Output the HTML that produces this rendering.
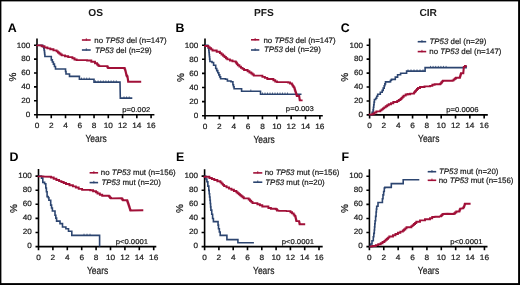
<!DOCTYPE html><html><head><meta charset="utf-8"><style>html,body{margin:0;padding:0;background:#fff;}svg{display:block;will-change:transform;filter:blur(0.3px);}text{font-family:"Liberation Sans", sans-serif;text-rendering:geometricPrecision;stroke:#1a1a1a;stroke-width:0.2px;}</style></head><body>
<svg width="520" height="285" viewBox="0 0 520 285">
<rect x="0" y="0" width="520" height="285" fill="#000"/>
<rect x="1.4" y="1.4" width="516.7" height="281.7" fill="#fff"/>
<text x="95.6" y="16" font-size="10.2" font-weight="bold" text-anchor="middle" fill="#1a1a1a" style="stroke:none">OS</text>
<text x="263.9" y="15.8" font-size="10.2" font-weight="bold" text-anchor="middle" fill="#1a1a1a" style="stroke:none">PFS</text>
<text x="428.2" y="16" font-size="10.2" font-weight="bold" text-anchor="middle" fill="#1a1a1a" style="stroke:none">CIR</text>
<text x="7.7" y="31.9" font-size="12.4" font-weight="bold" fill="#000" style="stroke:none">A</text>
<text x="175.6" y="31.7" font-size="12.4" font-weight="bold" fill="#000" style="stroke:none">B</text>
<text x="340.7" y="31.8" font-size="12.4" font-weight="bold" fill="#000" style="stroke:none">C</text>
<text x="9.4" y="161.2" font-size="12.4" font-weight="bold" fill="#000" style="stroke:none">D</text>
<text x="176.1" y="161.2" font-size="12.4" font-weight="bold" fill="#000" style="stroke:none">E</text>
<text x="341.6" y="161.2" font-size="12.4" font-weight="bold" fill="#000" style="stroke:none">F</text>
<path d="M37 38.5V114.7M34 114.7H154.4M34 114.7H37M34 100.8H37M34 86.9H37M34 73H37M34 59.1H37M34 45.2H37M37 114.7V118.3M51.26 114.7V118.3M65.52 114.7V118.3M79.78 114.7V118.3M94.04 114.7V118.3M108.3 114.7V118.3M122.56 114.7V118.3M136.82 114.7V118.3M151.08 114.7V118.3" stroke="#000" stroke-width="1.6" fill="none"/>
<text transform="translate(30.4 117.05) scale(1.06 1)" font-size="7.7" text-anchor="end" fill="#1a1a1a">0</text>
<text transform="translate(30.4 103.15) scale(1.06 1)" font-size="7.7" text-anchor="end" fill="#1a1a1a">20</text>
<text transform="translate(30.4 89.25) scale(1.06 1)" font-size="7.7" text-anchor="end" fill="#1a1a1a">40</text>
<text transform="translate(30.4 75.35) scale(1.06 1)" font-size="7.7" text-anchor="end" fill="#1a1a1a">60</text>
<text transform="translate(30.4 61.45) scale(1.06 1)" font-size="7.7" text-anchor="end" fill="#1a1a1a">80</text>
<text transform="translate(30.4 47.55) scale(1.06 1)" font-size="7.7" text-anchor="end" fill="#1a1a1a">100</text>
<text transform="translate(37 128) scale(1.08 1)" font-size="7.7" text-anchor="middle" fill="#1a1a1a">0</text>
<text transform="translate(51.26 128) scale(1.08 1)" font-size="7.7" text-anchor="middle" fill="#1a1a1a">2</text>
<text transform="translate(65.52 128) scale(1.08 1)" font-size="7.7" text-anchor="middle" fill="#1a1a1a">4</text>
<text transform="translate(79.78 128) scale(1.08 1)" font-size="7.7" text-anchor="middle" fill="#1a1a1a">6</text>
<text transform="translate(94.04 128) scale(1.08 1)" font-size="7.7" text-anchor="middle" fill="#1a1a1a">8</text>
<text transform="translate(108.3 128) scale(1.08 1)" font-size="7.7" text-anchor="middle" fill="#1a1a1a">10</text>
<text transform="translate(122.56 128) scale(1.08 1)" font-size="7.7" text-anchor="middle" fill="#1a1a1a">12</text>
<text transform="translate(136.82 128) scale(1.08 1)" font-size="7.7" text-anchor="middle" fill="#1a1a1a">14</text>
<text transform="translate(151.08 128) scale(1.08 1)" font-size="7.7" text-anchor="middle" fill="#1a1a1a">16</text>
<text transform="translate(96.1 142) scale(0.82 1)" font-size="10.3" text-anchor="middle" fill="#1a1a1a">Years</text>
<text transform="translate(15.8 77.15) rotate(-90)" font-size="10" text-anchor="middle" fill="#1a1a1a">%</text>
<text transform="translate(150.2 111.9) scale(1.1 1)" font-size="7" text-anchor="end" fill="#1a1a1a">p=0.002</text>
<path d="M37 45.2 L41.7 45.4 L42.8 45.4 L42.8 46.7 L43.8 46.7 L43.8 48.4 L44.15 48.4 L44.15 50.5 L44.5 50.5 L44.5 52.6 L44.7 52.6 L44.7 54.55 L44.9 54.55 L44.9 56.5 L50.1 56.5 L51.3 56.5 L51.3 59.9 L52.35 59.9 L52.35 62 L53.4 62 L53.4 64.1 L54.45 64.1 L54.45 66.55 L55.5 66.55 L55.5 69 L65.1 69 L65.55 69 L65.55 71.5 L66 71.5 L66 74 L68.9 74 L69.5 74 L69.5 76.4 L79 76.4 L79.4 76.4 L79.4 79.3 L93.5 79.3 L94 79.3 L94 82.1 L120 82.1 L120.3 98.1 L132.3 98.1" stroke="#2c4570" stroke-width="1.6" fill="none" stroke-linejoin="miter"/>
<path d="M37 45.2 L37 45.4 L41.7 45.4 L41.7 45.6 L41.7 46.3 L44.5 46.3 L44.5 47 L44.5 47.45 L47.4 47.45 L47.4 48.35 L50.3 48.35 L50.3 48.8 L50.3 49.32 L53.45 49.32 L53.45 50.38 L56.6 50.38 L56.6 50.9 L56.6 51.41 L57.9 51.41 L57.9 52.44 L59.2 52.44 L59.2 53.46 L60.5 53.46 L60.5 54.49 L61.8 54.49 L61.8 55 L61.8 55.42 L65 55.42 L65 56.28 L68.2 56.28 L68.2 56.7 L68.2 57.15 L72.4 57.15 L72.4 57.6 L72.4 58.23 L74.5 58.23 L74.5 59.48 L76.6 59.48 L76.6 60.1 L87.1 60.1 L87.1 60.55 L91.3 60.55 L91.3 61 L91.3 61.75 L95 61.75 L95 62.5 L95 63.2 L97.1 63.2 L97.1 63.9 L97.1 64.45 L98.15 64.45 L98.15 65.55 L99.2 65.55 L99.2 66.1 L107.1 66.1 L107.1 66.57 L107.65 66.57 L107.65 67.53 L108.2 67.53 L108.2 68 L124.5 68 L124.5 68.47 L124.83 68.47 L124.83 69.4 L125.17 69.4 L125.17 70.33 L125.5 70.33 L125.5 70.8 L125.5 71.33 L125.72 71.33 L125.72 72.38 L125.95 72.38 L125.95 73.42 L126.18 73.42 L126.18 74.47 L126.4 74.47 L126.4 75 L126.4 75.53 L127 75.53 L127 76.57 L127.6 76.57 L127.6 77.1 L127.6 77.69 L127.75 77.69 L127.75 78.86 L127.9 78.86 L127.9 80.04 L128.05 80.04 L128.05 81.21 L128.2 81.21 L128.2 81.8 L141.2 81.8" stroke="#a11038" stroke-width="1.9" fill="none" stroke-linejoin="miter"/>
<path d="M95.5 82.1V80.4M98.1 82.1V80.4M100.7 82.1V80.4M103.3 82.1V80.4M105.9 82.1V80.4M108.5 82.1V80.4M111.1 82.1V80.4M113.7 82.1V80.4M116.3 82.1V80.4" stroke="#2c4570" stroke-width="0.8" fill="none"/>
<path d="M124 98.1V96.4M126.6 98.1V96.4M129.2 98.1V96.4" stroke="#2c4570" stroke-width="0.8" fill="none"/>
<path d="M81.5 79.3V77.6M84.1 79.3V77.6M86.7 79.3V77.6M89.3 79.3V77.6" stroke="#2c4570" stroke-width="0.8" fill="none"/>
<path d="M81.9 40H90.7" stroke="#a11038" stroke-width="1.6"/>
<path d="M86.3 40.7v-2.4" stroke="#a11038" stroke-width="0.9"/>
<text x="94.35" y="42.65" font-size="7.9" fill="#1a1a1a" xml:space="preserve"><tspan>no </tspan><tspan font-style="italic">TP53</tspan><tspan> del (n=147)</tspan></text>
<path d="M81.9 50H90.7" stroke="#2c4570" stroke-width="1.6"/>
<path d="M86.3 50.7v-2.4" stroke="#2c4570" stroke-width="0.9"/>
<text x="94.9" y="52.55" font-size="7.9" fill="#1a1a1a" xml:space="preserve"><tspan font-style="italic">TP53</tspan><tspan> del (n=29)</tspan></text>
<path d="M205 38.5V115.7M202 115.7H322.8M202 115.7H205M202 101.6H205M202 87.5H205M202 73.4H205M202 59.3H205M202 45.2H205M205 115.7V119.3M219.36 115.7V119.3M233.72 115.7V119.3M248.08 115.7V119.3M262.44 115.7V119.3M276.8 115.7V119.3M291.16 115.7V119.3M305.52 115.7V119.3M319.88 115.7V119.3" stroke="#000" stroke-width="1.6" fill="none"/>
<text transform="translate(198.4 118.05) scale(1.06 1)" font-size="7.7" text-anchor="end" fill="#1a1a1a">0</text>
<text transform="translate(198.4 103.95) scale(1.06 1)" font-size="7.7" text-anchor="end" fill="#1a1a1a">20</text>
<text transform="translate(198.4 89.85) scale(1.06 1)" font-size="7.7" text-anchor="end" fill="#1a1a1a">40</text>
<text transform="translate(198.4 75.75) scale(1.06 1)" font-size="7.7" text-anchor="end" fill="#1a1a1a">60</text>
<text transform="translate(198.4 61.65) scale(1.06 1)" font-size="7.7" text-anchor="end" fill="#1a1a1a">80</text>
<text transform="translate(198.4 47.55) scale(1.06 1)" font-size="7.7" text-anchor="end" fill="#1a1a1a">100</text>
<text transform="translate(205 129) scale(1.08 1)" font-size="7.7" text-anchor="middle" fill="#1a1a1a">0</text>
<text transform="translate(219.36 129) scale(1.08 1)" font-size="7.7" text-anchor="middle" fill="#1a1a1a">2</text>
<text transform="translate(233.72 129) scale(1.08 1)" font-size="7.7" text-anchor="middle" fill="#1a1a1a">4</text>
<text transform="translate(248.08 129) scale(1.08 1)" font-size="7.7" text-anchor="middle" fill="#1a1a1a">6</text>
<text transform="translate(262.44 129) scale(1.08 1)" font-size="7.7" text-anchor="middle" fill="#1a1a1a">8</text>
<text transform="translate(276.8 129) scale(1.08 1)" font-size="7.7" text-anchor="middle" fill="#1a1a1a">10</text>
<text transform="translate(291.16 129) scale(1.08 1)" font-size="7.7" text-anchor="middle" fill="#1a1a1a">12</text>
<text transform="translate(305.52 129) scale(1.08 1)" font-size="7.7" text-anchor="middle" fill="#1a1a1a">14</text>
<text transform="translate(319.88 129) scale(1.08 1)" font-size="7.7" text-anchor="middle" fill="#1a1a1a">16</text>
<text transform="translate(264.1 143) scale(0.82 1)" font-size="10.3" text-anchor="middle" fill="#1a1a1a">Years</text>
<text transform="translate(183.8 77.65) rotate(-90)" font-size="10" text-anchor="middle" fill="#1a1a1a">%</text>
<text transform="translate(313.9 111.4) scale(1.1 1)" font-size="7" text-anchor="end" fill="#1a1a1a">p=0.003</text>
<path d="M205 45.2 L207.8 45.2 L207.8 46 L208.3 46 L208.3 48.2 L208.8 48.2 L208.8 50.4 L209 50.4 L209 52.5 L209.2 52.5 L209.2 54.6 L209.4 54.6 L209.4 56.7 L209.65 56.7 L209.65 59.1 L209.9 59.1 L209.9 61.5 L212 61.5 L212 62.5 L213.6 62.5 L213.6 65.2 L215.7 65.2 L215.7 68.5 L216.73 68.5 L216.73 70.63 L217.77 70.63 L217.77 72.77 L218.8 72.77 L218.8 74.9 L219.7 74.9 L219.7 76.85 L220.6 76.85 L220.6 78.8 L225.5 78.8 L225.5 79.2 L227.4 79.2 L227.4 81 L231 81 L231 81.7 L232.9 81.7 L232.9 84.7 L233.5 84.7 L233.5 86.75 L234.1 86.75 L234.1 88.8 L240.9 88.8 L241.6 88.8 L241.6 91.2 L259.9 91.2 L260.5 91.2 L260.5 94.2 L301.5 94.2" stroke="#2c4570" stroke-width="1.6" fill="none" stroke-linejoin="miter"/>
<path d="M205 45.2 L205 45.95 L208.3 45.95 L208.3 46.7 L208.3 47.23 L209.7 47.23 L209.7 48.3 L211.1 48.3 L211.1 49.37 L212.5 49.37 L212.5 49.9 L212.5 50.45 L216.7 50.45 L216.7 51 L216.7 51.75 L219.9 51.75 L219.9 52.5 L219.9 53.17 L221.5 53.17 L221.5 54.53 L223.1 54.53 L223.1 55.2 L223.1 55.8 L224.5 55.8 L224.5 57 L225.9 57 L225.9 58.2 L227.3 58.2 L227.3 58.8 L227.3 59.35 L229.9 59.35 L229.9 60.45 L232.5 60.45 L232.5 61 L232.5 61.4 L235.7 61.4 L235.7 61.8 L235.7 62.27 L236.4 62.27 L236.4 63.2 L237.1 63.2 L237.1 64.13 L237.8 64.13 L237.8 64.6 L237.8 65.27 L239.4 65.27 L239.4 66.62 L241 66.62 L241 67.3 L241 67.83 L242.55 67.83 L242.55 68.88 L244.1 68.88 L244.1 69.4 L244.1 70 L247.6 70 L247.6 70.6 L247.6 71.22 L249.45 71.22 L249.45 72.47 L251.3 72.47 L251.3 73.1 L251.3 73.55 L252.55 73.55 L252.55 74.45 L253.8 74.45 L253.8 74.9 L253.8 75.65 L262.4 75.65 L262.4 76.4 L262.4 76.9 L264.85 76.9 L264.85 77.9 L267.3 77.9 L267.3 78.4 L267.3 79.05 L273.4 79.05 L273.4 79.7 L273.4 80.3 L275.25 80.3 L275.25 81.5 L277.1 81.5 L277.1 82.1 L288.2 82.1 L288.2 82.57 L290.05 82.57 L290.05 83.53 L291.9 83.53 L291.9 84 L291.9 84.62 L292.7 84.62 L292.7 85.85 L293.5 85.85 L293.5 87.08 L294.3 87.08 L294.3 87.7 L294.3 88.3 L294.7 88.3 L294.7 89.5 L295.1 89.5 L295.1 90.7 L295.5 90.7 L295.5 91.3 L295.5 91.84 L295.82 91.84 L295.82 92.91 L296.15 92.91 L296.15 93.99 L296.48 93.99 L296.48 95.06 L296.8 95.06 L296.8 95.6 L296.8 95.95 L299.2 95.95 L299.2 96.3 L299.2 96.81 L299.35 96.81 L299.35 97.84 L299.5 97.84 L299.5 98.86 L299.65 98.86 L299.65 99.89 L299.8 99.89 L299.8 100.4 L302.6 100.4" stroke="#a11038" stroke-width="1.9" fill="none" stroke-linejoin="miter"/>
<path d="M262.5 94.2V92.5M265 94.2V92.5M267.5 94.2V92.5M270 94.2V92.5M272.5 94.2V92.5M275 94.2V92.5M277.5 94.2V92.5M280 94.2V92.5M282.5 94.2V92.5M285 94.2V92.5M287.5 94.2V92.5" stroke="#2c4570" stroke-width="0.8" fill="none"/>
<path d="M250.8 91.2V89.5" stroke="#2c4570" stroke-width="0.8" fill="none"/>
<path d="M251 39.8H259.3" stroke="#a11038" stroke-width="1.6"/>
<path d="M255.15 40.5v-2.4" stroke="#a11038" stroke-width="0.9"/>
<text x="263.45" y="42.55" font-size="7.9" fill="#1a1a1a" xml:space="preserve"><tspan>no </tspan><tspan font-style="italic">TP53</tspan><tspan> del (n=147)</tspan></text>
<path d="M251 50H259.3" stroke="#2c4570" stroke-width="1.6"/>
<path d="M255.15 50.7v-2.4" stroke="#2c4570" stroke-width="0.9"/>
<text x="264" y="52.45" font-size="7.9" fill="#1a1a1a" xml:space="preserve"><tspan font-style="italic">TP53</tspan><tspan> del (n=29)</tspan></text>
<path d="M369.6 38.5V114.9M366.6 114.9H487.8M366.6 114.9H369.6M366.6 100.96H369.6M366.6 87.02H369.6M366.6 73.08H369.6M366.6 59.14H369.6M366.6 45.2H369.6M369.6 114.9V118.5M383.92 114.9V118.5M398.24 114.9V118.5M412.56 114.9V118.5M426.88 114.9V118.5M441.2 114.9V118.5M455.52 114.9V118.5M469.84 114.9V118.5M484.16 114.9V118.5" stroke="#000" stroke-width="1.6" fill="none"/>
<text transform="translate(363 117.25) scale(1.06 1)" font-size="7.7" text-anchor="end" fill="#1a1a1a">0</text>
<text transform="translate(363 103.31) scale(1.06 1)" font-size="7.7" text-anchor="end" fill="#1a1a1a">20</text>
<text transform="translate(363 89.37) scale(1.06 1)" font-size="7.7" text-anchor="end" fill="#1a1a1a">40</text>
<text transform="translate(363 75.43) scale(1.06 1)" font-size="7.7" text-anchor="end" fill="#1a1a1a">60</text>
<text transform="translate(363 61.49) scale(1.06 1)" font-size="7.7" text-anchor="end" fill="#1a1a1a">80</text>
<text transform="translate(363 47.55) scale(1.06 1)" font-size="7.7" text-anchor="end" fill="#1a1a1a">100</text>
<text transform="translate(369.6 128.2) scale(1.08 1)" font-size="7.7" text-anchor="middle" fill="#1a1a1a">0</text>
<text transform="translate(383.92 128.2) scale(1.08 1)" font-size="7.7" text-anchor="middle" fill="#1a1a1a">2</text>
<text transform="translate(398.24 128.2) scale(1.08 1)" font-size="7.7" text-anchor="middle" fill="#1a1a1a">4</text>
<text transform="translate(412.56 128.2) scale(1.08 1)" font-size="7.7" text-anchor="middle" fill="#1a1a1a">6</text>
<text transform="translate(426.88 128.2) scale(1.08 1)" font-size="7.7" text-anchor="middle" fill="#1a1a1a">8</text>
<text transform="translate(441.2 128.2) scale(1.08 1)" font-size="7.7" text-anchor="middle" fill="#1a1a1a">10</text>
<text transform="translate(455.52 128.2) scale(1.08 1)" font-size="7.7" text-anchor="middle" fill="#1a1a1a">12</text>
<text transform="translate(469.84 128.2) scale(1.08 1)" font-size="7.7" text-anchor="middle" fill="#1a1a1a">14</text>
<text transform="translate(484.16 128.2) scale(1.08 1)" font-size="7.7" text-anchor="middle" fill="#1a1a1a">16</text>
<text transform="translate(428.7 142.2) scale(0.82 1)" font-size="10.3" text-anchor="middle" fill="#1a1a1a">Years</text>
<text transform="translate(348.4 77.25) rotate(-90)" font-size="10" text-anchor="middle" fill="#1a1a1a">%</text>
<text transform="translate(478.6 112) scale(1.1 1)" font-size="7" text-anchor="end" fill="#1a1a1a">p=0.0006</text>
<path d="M369.6 114.9 L371.2 114.8 L372.15 114.8 L372.15 112.35 L373.1 112.35 L373.1 109.9 L373.43 109.9 L373.43 107.3 L373.75 107.3 L373.75 104.7 L374.07 104.7 L374.07 102.1 L374.4 102.1 L374.4 99.5 L375.7 99.5 L375.7 98.2 L376.7 98.2 L376.7 96.25 L377.7 96.25 L377.7 94.3 L380.3 94.3 L380.3 92.3 L382.2 92.3 L382.2 90.4 L383.2 90.4 L383.2 88.1 L384.2 88.1 L384.2 85.8 L384.85 85.8 L384.85 83.85 L385.5 83.85 L385.5 81.9 L389.8 81.9 L389.8 81.6 L390.6 81.6 L390.6 80.2 L391.5 80.2 L391.5 79.4 L395.3 79.4 L395.3 77.1 L397.6 77.1 L397.6 74.8 L400.6 74.8 L400.6 73.3 L405.1 73.3 L406.6 73.3 L406.6 71.1 L424.5 71.1 L425.1 71.1 L425.1 67.6 L463.3 67.6 L466.1 67.6 L466.1 65.6" stroke="#2c4570" stroke-width="1.6" fill="none" stroke-linejoin="miter"/>
<path d="M369.6 114.9 L369.6 114.65 L372.5 114.65 L372.5 114.4 L372.5 113.75 L374.45 113.75 L374.45 112.45 L376.4 112.45 L376.4 111.8 L376.4 111.35 L380.3 111.35 L380.3 110.9 L380.3 110.4 L381.6 110.4 L381.6 109.4 L382.9 109.4 L382.9 108.4 L384.2 108.4 L384.2 107.9 L384.2 107.37 L385.7 107.37 L385.7 106.3 L387.2 106.3 L387.2 105.23 L388.7 105.23 L388.7 104.7 L388.7 104.2 L391 104.2 L391 103.2 L393.3 103.2 L393.3 102.7 L393.3 102.05 L397.2 102.05 L397.2 101.4 L397.2 100.93 L398.8 100.93 L398.8 99.97 L400.4 99.97 L400.4 99.5 L400.4 98.95 L401.5 98.95 L401.5 97.85 L402.6 97.85 L402.6 96.75 L403.7 96.75 L403.7 96.2 L403.7 95.65 L405.65 95.65 L405.65 94.55 L407.6 94.55 L407.6 94 L410.2 94.3 L410.2 93.65 L414 93.65 L414 93 L414 92.42 L415 92.42 L415 91.28 L416 91.28 L416 90.12 L417 90.12 L417 88.98 L418 88.98 L418 88.4 L418 87.95 L420 87.95 L420 87.5 L420 86.95 L424.5 86.95 L424.5 86.4 L430.1 86.4 L430.1 85.85 L432.35 85.85 L432.35 84.75 L434.6 84.75 L434.6 84.2 L440.2 84.2 L440.2 83.63 L441.13 83.63 L441.13 82.5 L442.07 82.5 L442.07 81.37 L443 81.37 L443 80.8 L452.6 80.8 L452.6 80.33 L453.73 80.33 L453.73 79.4 L454.87 79.4 L454.87 78.47 L456 78.47 L456 78 L456 77.7 L459.9 77.7 L459.9 77.4 L459.9 76.91 L460.17 76.91 L460.17 75.94 L460.45 75.94 L460.45 74.96 L460.73 74.96 L460.73 73.99 L461 73.99 L461 73.5 L461 73.2 L463.3 73.2 L463.3 72.9 L463.3 72.34 L463.4 72.34 L463.4 71.22 L463.5 71.22 L463.5 70.1 L463.6 70.1 L463.6 68.98 L463.7 68.98 L463.7 67.86 L463.8 67.86 L463.8 67.3 L463.8 66.88 L464.95 66.88 L464.95 66.02 L466.1 66.02 L466.1 65.6" stroke="#a11038" stroke-width="1.9" fill="none" stroke-linejoin="miter"/>
<path d="M430.5 67.6V65.9M433.1 67.6V65.9M435.7 67.6V65.9M438.3 67.6V65.9M440.9 67.6V65.9M443.5 67.6V65.9M446.1 67.6V65.9" stroke="#2c4570" stroke-width="0.8" fill="none"/>
<path d="M408 71.1V69.4M411 71.1V69.4M414 71.1V69.4M417 71.1V69.4M420 71.1V69.4M423 71.1V69.4" stroke="#2c4570" stroke-width="0.8" fill="none"/>
<path d="M417.7 41.7H426.2" stroke="#2c4570" stroke-width="1.6"/>
<path d="M421.95 42.4v-2.4" stroke="#2c4570" stroke-width="0.9"/>
<text x="429.5" y="44.45" font-size="7.9" fill="#1a1a1a" xml:space="preserve"><tspan font-style="italic">TP53</tspan><tspan> del (n=29)</tspan></text>
<path d="M417.7 51.6H426.2" stroke="#a11038" stroke-width="1.6"/>
<path d="M421.95 52.3v-2.4" stroke="#a11038" stroke-width="0.9"/>
<text x="429.25" y="54.45" font-size="7.9" fill="#1a1a1a" xml:space="preserve"><tspan>no </tspan><tspan font-style="italic">TP53</tspan><tspan> del (n=147)</tspan></text>
<path d="M38.5 169.1V246.6M35.5 246.6H156.3M35.5 246.6H38.5M35.5 232.5H38.5M35.5 218.4H38.5M35.5 204.3H38.5M35.5 190.2H38.5M35.5 176.1H38.5M38.5 246.6V250.2M52.9 246.6V250.2M67.3 246.6V250.2M81.7 246.6V250.2M96.1 246.6V250.2M110.5 246.6V250.2M124.9 246.6V250.2M139.3 246.6V250.2M153.7 246.6V250.2" stroke="#000" stroke-width="1.6" fill="none"/>
<text transform="translate(31.9 248.45) scale(1.06 1)" font-size="7.7" text-anchor="end" fill="#1a1a1a">0</text>
<text transform="translate(31.9 234.35) scale(1.06 1)" font-size="7.7" text-anchor="end" fill="#1a1a1a">20</text>
<text transform="translate(31.9 220.25) scale(1.06 1)" font-size="7.7" text-anchor="end" fill="#1a1a1a">40</text>
<text transform="translate(31.9 206.15) scale(1.06 1)" font-size="7.7" text-anchor="end" fill="#1a1a1a">60</text>
<text transform="translate(31.9 192.05) scale(1.06 1)" font-size="7.7" text-anchor="end" fill="#1a1a1a">80</text>
<text transform="translate(31.9 177.95) scale(1.06 1)" font-size="7.7" text-anchor="end" fill="#1a1a1a">100</text>
<text transform="translate(38.5 259.9) scale(1.08 1)" font-size="7.7" text-anchor="middle" fill="#1a1a1a">0</text>
<text transform="translate(52.9 259.9) scale(1.08 1)" font-size="7.7" text-anchor="middle" fill="#1a1a1a">2</text>
<text transform="translate(67.3 259.9) scale(1.08 1)" font-size="7.7" text-anchor="middle" fill="#1a1a1a">4</text>
<text transform="translate(81.7 259.9) scale(1.08 1)" font-size="7.7" text-anchor="middle" fill="#1a1a1a">6</text>
<text transform="translate(96.1 259.9) scale(1.08 1)" font-size="7.7" text-anchor="middle" fill="#1a1a1a">8</text>
<text transform="translate(110.5 259.9) scale(1.08 1)" font-size="7.7" text-anchor="middle" fill="#1a1a1a">10</text>
<text transform="translate(124.9 259.9) scale(1.08 1)" font-size="7.7" text-anchor="middle" fill="#1a1a1a">12</text>
<text transform="translate(139.3 259.9) scale(1.08 1)" font-size="7.7" text-anchor="middle" fill="#1a1a1a">14</text>
<text transform="translate(153.7 259.9) scale(1.08 1)" font-size="7.7" text-anchor="middle" fill="#1a1a1a">16</text>
<text transform="translate(97.6 274.2) scale(0.82 1)" font-size="10.3" text-anchor="middle" fill="#1a1a1a">Years</text>
<text transform="translate(17.3 208.55) rotate(-90)" font-size="10" text-anchor="middle" fill="#1a1a1a">%</text>
<text transform="translate(148 243.7) scale(1.1 1)" font-size="7" text-anchor="end" fill="#1a1a1a">p&lt;0.0001</text>
<path d="M38.5 176.1 L41.5 176.1 L41.5 178.1 L42.8 178.1 L42.8 182.4 L44.6 182.4 L44.6 183.7 L45.8 183.7 L45.8 188 L46.4 188 L46.4 191.7 L47.1 191.7 L47.1 196.6 L48.3 196.6 L48.3 197.8 L48.9 197.8 L48.9 200.3 L50.7 200.3 L50.7 205.1 L51.55 205.1 L51.55 208.05 L52.4 208.05 L52.4 211 L55 211 L55 215.2 L55.8 215.2 L55.8 218.15 L56.6 218.15 L56.6 221.1 L60 221.1 L60 223.6 L62.5 223.6 L62.5 227 L65.9 227 L65.9 228.7 L68.5 228.7 L68.5 231.2 L71.8 231.2 L71.8 235.4 L99.6 235.4 L99.6 246.6" stroke="#2c4570" stroke-width="1.6" fill="none" stroke-linejoin="miter"/>
<path d="M38.5 176.1 L38.5 176.35 L43.4 176.35 L43.4 176.6 L51 176.8 L51 177.43 L53.7 177.43 L53.7 178.7 L56.4 178.7 L56.4 179.97 L59.1 179.97 L59.1 180.6 L59.1 181.08 L61.4 181.08 L61.4 182.05 L63.7 182.05 L63.7 183.02 L66 183.02 L66 183.5 L66 184.07 L69.45 184.07 L69.45 185.23 L72.9 185.23 L72.9 185.8 L72.9 186.38 L75.8 186.38 L75.8 187.53 L78.7 187.53 L78.7 188.1 L78.7 188.9 L82.1 188.9 L82.1 189.7 L90.2 189.9 L90.2 190.32 L93.1 190.32 L93.1 191.18 L96 191.18 L96 191.6 L96 192.2 L97.5 192.2 L97.5 192.8 L97.5 193.48 L99.85 193.48 L99.85 194.82 L102.2 194.82 L102.2 195.5 L102.2 195.7 L108.9 195.7 L108.9 195.9 L108.9 196.53 L109.95 196.53 L109.95 197.78 L111 197.78 L111 198.4 L121.7 198.2 L121.7 198.7 L122.4 198.7 L122.4 199.7 L123.1 199.7 L123.1 200.2 L127.1 200.2 L127.1 200.7 L127.45 200.7 L127.45 201.7 L127.8 201.7 L127.8 202.7 L128.15 202.7 L128.15 203.7 L128.5 203.7 L128.5 204.2 L128.5 204.71 L128.82 204.71 L128.82 205.74 L129.15 205.74 L129.15 206.76 L129.48 206.76 L129.48 207.79 L129.8 207.79 L129.8 208.3 L129.8 208.85 L130.15 208.85 L130.15 209.95 L130.5 209.95 L130.5 210.5 L143.3 210.3" stroke="#a11038" stroke-width="1.9" fill="none" stroke-linejoin="miter"/>
<path d="M84 235.4V233.7M87 235.4V233.7M90 235.4V233.7" stroke="#2c4570" stroke-width="0.8" fill="none"/>
<path d="M89.6 172.8H98.1" stroke="#a11038" stroke-width="1.6"/>
<path d="M93.85 173.5v-2.4" stroke="#a11038" stroke-width="0.9"/>
<text x="100.85" y="175.45" font-size="7.9" fill="#1a1a1a" xml:space="preserve"><tspan>no </tspan><tspan font-style="italic">TP53</tspan><tspan> mut (n=156)</tspan></text>
<path d="M89.6 182.6H98.1" stroke="#2c4570" stroke-width="1.6"/>
<path d="M93.85 183.3v-2.4" stroke="#2c4570" stroke-width="0.9"/>
<text x="101.4" y="185.05" font-size="7.9" fill="#1a1a1a" xml:space="preserve"><tspan font-style="italic">TP53</tspan><tspan> mut (n=20)</tspan></text>
<path d="M204.6 169.2V246.6M201.6 246.6H322.7M201.6 246.6H204.6M201.6 232.5H204.6M201.6 218.4H204.6M201.6 204.3H204.6M201.6 190.2H204.6M201.6 176.1H204.6M204.6 246.6V250.2M218.9 246.6V250.2M233.2 246.6V250.2M247.5 246.6V250.2M261.8 246.6V250.2M276.1 246.6V250.2M290.4 246.6V250.2M304.7 246.6V250.2M319 246.6V250.2" stroke="#000" stroke-width="1.6" fill="none"/>
<text transform="translate(198 248.45) scale(1.06 1)" font-size="7.7" text-anchor="end" fill="#1a1a1a">0</text>
<text transform="translate(198 234.35) scale(1.06 1)" font-size="7.7" text-anchor="end" fill="#1a1a1a">20</text>
<text transform="translate(198 220.25) scale(1.06 1)" font-size="7.7" text-anchor="end" fill="#1a1a1a">40</text>
<text transform="translate(198 206.15) scale(1.06 1)" font-size="7.7" text-anchor="end" fill="#1a1a1a">60</text>
<text transform="translate(198 192.05) scale(1.06 1)" font-size="7.7" text-anchor="end" fill="#1a1a1a">80</text>
<text transform="translate(198 177.95) scale(1.06 1)" font-size="7.7" text-anchor="end" fill="#1a1a1a">100</text>
<text transform="translate(204.6 259.9) scale(1.08 1)" font-size="7.7" text-anchor="middle" fill="#1a1a1a">0</text>
<text transform="translate(218.9 259.9) scale(1.08 1)" font-size="7.7" text-anchor="middle" fill="#1a1a1a">2</text>
<text transform="translate(233.2 259.9) scale(1.08 1)" font-size="7.7" text-anchor="middle" fill="#1a1a1a">4</text>
<text transform="translate(247.5 259.9) scale(1.08 1)" font-size="7.7" text-anchor="middle" fill="#1a1a1a">6</text>
<text transform="translate(261.8 259.9) scale(1.08 1)" font-size="7.7" text-anchor="middle" fill="#1a1a1a">8</text>
<text transform="translate(276.1 259.9) scale(1.08 1)" font-size="7.7" text-anchor="middle" fill="#1a1a1a">10</text>
<text transform="translate(290.4 259.9) scale(1.08 1)" font-size="7.7" text-anchor="middle" fill="#1a1a1a">12</text>
<text transform="translate(304.7 259.9) scale(1.08 1)" font-size="7.7" text-anchor="middle" fill="#1a1a1a">14</text>
<text transform="translate(319 259.9) scale(1.08 1)" font-size="7.7" text-anchor="middle" fill="#1a1a1a">16</text>
<text transform="translate(263.7 274.2) scale(0.82 1)" font-size="10.3" text-anchor="middle" fill="#1a1a1a">Years</text>
<text transform="translate(183.4 208.55) rotate(-90)" font-size="10" text-anchor="middle" fill="#1a1a1a">%</text>
<text transform="translate(314 243.9) scale(1.1 1)" font-size="7" text-anchor="end" fill="#1a1a1a">p&lt;0.0001</text>
<path d="M204.5 176.1 L205.7 176.1 L205.7 178.95 L206.9 178.95 L206.9 181.8 L207.85 181.8 L207.85 186.1 L208.8 186.1 L208.8 190.4 L209.2 190.4 L209.2 193.7 L209.6 193.7 L209.6 197 L210 197 L210 200.3 L210.3 200.3 L210.3 203.57 L210.6 203.57 L210.6 206.83 L210.9 206.83 L210.9 210.1 L211.75 210.1 L211.75 214.3 L212.6 214.3 L212.6 218.5 L213.4 218.5 L213.4 221.6 L217.6 221.6 L218.05 221.6 L218.05 225.15 L218.5 225.15 L218.5 228.7 L219.35 228.7 L219.35 232.05 L220.2 232.05 L220.2 235.4 L226.1 235.4 L226.9 235.4 L226.9 239.6 L237 239.6 L237.9 239.6 L237.9 242.7 L253.9 242.7" stroke="#2c4570" stroke-width="1.6" fill="none" stroke-linejoin="miter"/>
<path d="M204.5 176.1 L204.5 176.8 L209.4 176.8 L209.4 177.5 L209.4 177.97 L211.85 177.97 L211.85 178.93 L214.3 178.93 L214.3 179.4 L214.3 180 L217.35 180 L217.35 181.2 L220.4 181.2 L220.4 181.8 L220.4 182.42 L221.63 182.42 L221.63 183.65 L222.87 183.65 L222.87 184.88 L224.1 184.88 L224.1 185.5 L224.1 186.12 L226.55 186.12 L226.55 187.38 L229 187.38 L229 188 L229 188.6 L231.45 188.6 L231.45 189.8 L233.9 189.8 L233.9 190.4 L233.9 191.05 L236.4 191.05 L236.4 191.7 L236.4 192.2 L237.63 192.2 L237.63 193.2 L238.87 193.2 L238.87 194.2 L240.1 194.2 L240.1 194.7 L240.1 195.22 L241.33 195.22 L241.33 196.25 L242.57 196.25 L242.57 197.28 L243.8 197.28 L243.8 197.8 L243.8 198.4 L248.7 198.4 L248.7 199 L248.7 199.57 L249.97 199.57 L249.97 200.7 L251.23 200.7 L251.23 201.83 L252.5 201.83 L252.5 202.4 L252.5 203.1 L257.4 203.1 L257.4 203.8 L257.4 204.3 L259.85 204.3 L259.85 205.3 L262.3 205.3 L262.3 205.8 L262.3 206.55 L268.4 206.55 L268.4 207.3 L268.4 208 L270.9 208 L270.9 208.7 L275.8 208.7 L275.8 209.27 L277 209.27 L277 210.43 L278.2 210.43 L278.2 211 L278.2 210.85 L286.8 210.85 L286.8 210.7 L286.8 211.15 L290.5 211.15 L290.5 211.6 L290.5 212.2 L292.05 212.2 L292.05 213.4 L293.6 213.4 L293.6 214 L293.6 214.62 L294.5 214.62 L294.5 215.88 L295.4 215.88 L295.4 216.5 L295.4 217.04 L295.65 217.04 L295.65 218.11 L295.9 218.11 L295.9 219.19 L296.15 219.19 L296.15 220.26 L296.4 220.26 L296.4 220.8 L296.4 221.1 L299.1 221.1 L299.1 221.4 L299.1 221.87 L299.3 221.87 L299.3 222.8 L299.5 222.8 L299.5 223.73 L299.7 223.73 L299.7 224.2 L305.2 224.2" stroke="#a11038" stroke-width="1.9" fill="none" stroke-linejoin="miter"/>
<path d="M253.2 172.9H262.3" stroke="#a11038" stroke-width="1.6"/>
<path d="M257.75 173.6v-2.4" stroke="#a11038" stroke-width="0.9"/>
<text x="264.65" y="175.45" font-size="7.9" fill="#1a1a1a" xml:space="preserve"><tspan>no </tspan><tspan font-style="italic">TP53</tspan><tspan> mut (n=156)</tspan></text>
<path d="M253.2 182.2H262.3" stroke="#2c4570" stroke-width="1.6"/>
<path d="M257.75 182.9v-2.4" stroke="#2c4570" stroke-width="0.9"/>
<text x="265.3" y="184.85" font-size="7.9" fill="#1a1a1a" xml:space="preserve"><tspan font-style="italic">TP53</tspan><tspan> mut (n=20)</tspan></text>
<path d="M369.4 169.2V246.6M366.4 246.6H487.5M366.4 246.6H369.4M366.4 232.52H369.4M366.4 218.44H369.4M366.4 204.36H369.4M366.4 190.28H369.4M366.4 176.2H369.4M369.4 246.6V250.2M383.78 246.6V250.2M398.16 246.6V250.2M412.54 246.6V250.2M426.92 246.6V250.2M441.3 246.6V250.2M455.68 246.6V250.2M470.06 246.6V250.2M484.44 246.6V250.2" stroke="#000" stroke-width="1.6" fill="none"/>
<text transform="translate(362.8 248.45) scale(1.06 1)" font-size="7.7" text-anchor="end" fill="#1a1a1a">0</text>
<text transform="translate(362.8 234.37) scale(1.06 1)" font-size="7.7" text-anchor="end" fill="#1a1a1a">20</text>
<text transform="translate(362.8 220.29) scale(1.06 1)" font-size="7.7" text-anchor="end" fill="#1a1a1a">40</text>
<text transform="translate(362.8 206.21) scale(1.06 1)" font-size="7.7" text-anchor="end" fill="#1a1a1a">60</text>
<text transform="translate(362.8 192.13) scale(1.06 1)" font-size="7.7" text-anchor="end" fill="#1a1a1a">80</text>
<text transform="translate(362.8 178.05) scale(1.06 1)" font-size="7.7" text-anchor="end" fill="#1a1a1a">100</text>
<text transform="translate(369.4 259.9) scale(1.08 1)" font-size="7.7" text-anchor="middle" fill="#1a1a1a">0</text>
<text transform="translate(383.78 259.9) scale(1.08 1)" font-size="7.7" text-anchor="middle" fill="#1a1a1a">2</text>
<text transform="translate(398.16 259.9) scale(1.08 1)" font-size="7.7" text-anchor="middle" fill="#1a1a1a">4</text>
<text transform="translate(412.54 259.9) scale(1.08 1)" font-size="7.7" text-anchor="middle" fill="#1a1a1a">6</text>
<text transform="translate(426.92 259.9) scale(1.08 1)" font-size="7.7" text-anchor="middle" fill="#1a1a1a">8</text>
<text transform="translate(441.3 259.9) scale(1.08 1)" font-size="7.7" text-anchor="middle" fill="#1a1a1a">10</text>
<text transform="translate(455.68 259.9) scale(1.08 1)" font-size="7.7" text-anchor="middle" fill="#1a1a1a">12</text>
<text transform="translate(470.06 259.9) scale(1.08 1)" font-size="7.7" text-anchor="middle" fill="#1a1a1a">14</text>
<text transform="translate(484.44 259.9) scale(1.08 1)" font-size="7.7" text-anchor="middle" fill="#1a1a1a">16</text>
<text transform="translate(428.5 274.2) scale(0.82 1)" font-size="10.3" text-anchor="middle" fill="#1a1a1a">Years</text>
<text transform="translate(348.2 208.6) rotate(-90)" font-size="10" text-anchor="middle" fill="#1a1a1a">%</text>
<text transform="translate(482.5 243.7) scale(1.1 1)" font-size="7" text-anchor="end" fill="#1a1a1a">p&lt;0.0001</text>
<path d="M369.4 246.6 L370.7 246.6 L370.7 244 L372 244 L372 240.7 L373.3 240.7 L373.3 236.7 L373.8 236.7 L373.8 233.35 L374.3 233.35 L374.3 230 L374.57 230 L374.57 226.9 L374.83 226.9 L374.83 223.8 L375.1 223.8 L375.1 220.7 L375.6 220.7 L375.6 216.35 L376.1 216.35 L376.1 212 L376.4 212 L376.4 209.15 L376.7 209.15 L376.7 206.3 L378 206.3 L378 202.5 L381.8 202.5 L382.4 202.5 L382.4 198.7 L383 198.7 L383 194.9 L383.65 194.9 L383.65 191.45 L384.3 191.45 L384.3 188 L384.9 188 L384.9 187.4 L390.6 187.4 L391.3 187.4 L391.3 183.6 L402.6 183.6 L403.2 183.6 L403.2 179.8 L419.3 179.8" stroke="#2c4570" stroke-width="1.6" fill="none" stroke-linejoin="miter"/>
<path d="M369.4 246.6 L372.5 246.3 L372.5 245.95 L375.8 245.95 L375.8 245.6 L375.8 245.15 L378.25 245.15 L378.25 244.25 L380.7 244.25 L380.7 243.8 L380.7 243.2 L382.55 243.2 L382.55 242 L384.4 242 L384.4 241.4 L384.4 240.86 L385.62 240.86 L385.62 239.79 L386.85 239.79 L386.85 238.71 L388.07 238.71 L388.07 237.64 L389.3 237.64 L389.3 237.1 L389.3 236.5 L393 236.5 L393 235.9 L393 235.28 L395.45 235.28 L395.45 234.03 L397.9 234.03 L397.9 233.4 L397.9 232.8 L400.35 232.8 L400.35 231.6 L402.8 231.6 L402.8 231 L402.8 230.48 L404.03 230.48 L404.03 229.45 L405.27 229.45 L405.27 228.42 L406.5 228.42 L406.5 227.9 L406.5 227.3 L411.4 227.3 L411.4 226.7 L411.4 226.16 L412.62 226.16 L412.62 225.09 L413.85 225.09 L413.85 224.01 L415.07 224.01 L415.07 222.94 L416.3 222.94 L416.3 222.4 L416.3 221.75 L420 221.75 L420 221.1 L420 220.35 L425 220.35 L425 219.6 L425 219.2 L430 219.2 L430 218.8 L430 218.23 L432.2 218.23 L432.2 217.07 L434.4 217.07 L434.4 216.5 L434.4 216.7 L440 216.7 L440 216.9 L440 216.42 L441.03 216.42 L441.03 215.45 L442.07 215.45 L442.07 214.48 L443.1 214.48 L443.1 214 L447.5 213.8 L453.8 214 L453.8 213.47 L455.05 213.47 L455.05 212.43 L456.3 212.43 L456.3 211.9 L456.3 211.45 L459.4 211.45 L459.4 211 L459.4 210.52 L459.8 210.52 L459.8 209.55 L460.2 209.55 L460.2 208.58 L460.6 208.58 L460.6 208.1 L460.6 208.45 L462.5 208.45 L462.5 208.8 L462.5 208.33 L463.25 208.33 L463.25 207.38 L464 207.38 L464 206.9 L464 206.38 L464.33 206.38 L464.33 205.35 L464.67 205.35 L464.67 204.32 L465 204.32 L465 203.8 L470.6 203.8" stroke="#a11038" stroke-width="1.9" fill="none" stroke-linejoin="miter"/>
<path d="M427.7 171.7H436.2" stroke="#2c4570" stroke-width="1.6"/>
<path d="M431.95 172.4v-2.4" stroke="#2c4570" stroke-width="0.9"/>
<text x="439" y="173.65" font-size="7.9" fill="#1a1a1a" xml:space="preserve"><tspan font-style="italic">TP53</tspan><tspan> mut (n=20)</tspan></text>
<path d="M427.7 180.3H436.2" stroke="#a11038" stroke-width="1.6"/>
<path d="M431.95 181v-2.4" stroke="#a11038" stroke-width="0.9"/>
<text x="438.65" y="183.25" font-size="7.9" fill="#1a1a1a" xml:space="preserve"><tspan>no </tspan><tspan font-style="italic">TP53</tspan><tspan> mut (n=156)</tspan></text>
</svg></body></html>
